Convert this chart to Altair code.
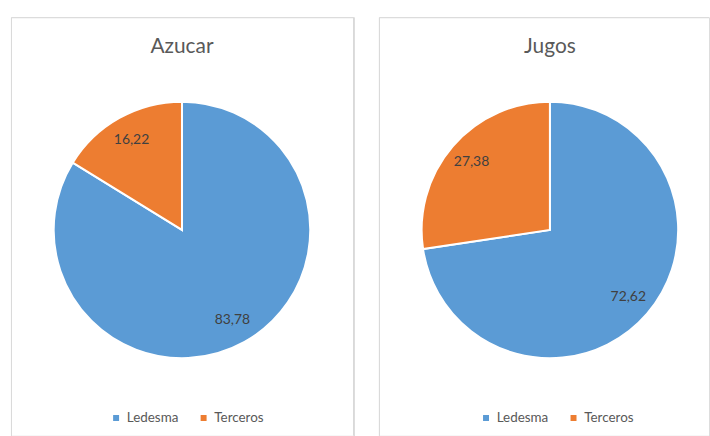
import altair as alt
import pandas as pd

categories = ["Ledesma", "Terceros"]
titles = ["Azucar", "Jugos"]
azucar_values = [83.78, 16.22]
jugos_values = [72.62, 27.38]
colors = ["#5B9BD5", "#ED7D31"]

FONT = "Lato"
PANEL_H = 421


def panel(title, values, width, border_w, cx, legend_x):
    df = pd.DataFrame({
        "cat": categories,
        "value": values,
        "idx": list(range(len(categories))),
        "label": [f"{v:.2f}".replace(".", ",") for v in values],
    })
    base = alt.Chart(df).encode(
        theta=alt.Theta("value:Q", stack=True),
        order=alt.Order("idx:Q"),
        color=alt.Color(
            "cat:N",
            scale=alt.Scale(domain=categories, range=colors),
            legend=alt.Legend(
                title=None,
                orient="none",
                direction="horizontal",
                legendX=legend_x,
                legendY=396,
                symbolType="square",
                symbolSize=36,
                symbolStrokeWidth=0,
                labelFontSize=13.5,
                labelColor="#595959",
                labelFont=FONT,
                columnPadding=18,
                symbolOffset=0,
            ),
        ),
    )
    pie = base.mark_arc(outerRadius=129, stroke="white", strokeWidth=2).encode(
        x=alt.value(cx), y=alt.value(214)
    )
    labels = base.mark_text(radius=104, fontSize=14, font=FONT, color="#404040").encode(
        x=alt.value(cx), y=alt.value(214), text="label:N",
        color=alt.value("#404040"),
    )
    ttl = alt.Chart(pd.DataFrame({"t": [title]})).mark_text(
        fontSize=21, font=FONT, color="#595959"
    ).encode(text="t:N", x=alt.value(cx), y=alt.value(30))
    border = alt.Chart(pd.DataFrame({"t": [title]})).mark_rect(
        filled=False, stroke="#d9d9d9", strokeWidth=1, clip=True
    ).encode(
        x=alt.value(0.5), x2=alt.value(border_w - 0.5),
        y=alt.value(0.5), y2=alt.value(PANEL_H + 50),
    )
    return alt.layer(border, pie, labels, ttl).properties(width=width, height=PANEL_H)


left = panel(titles[0], azucar_values, 345, 345, 172, 99)
right = panel(titles[1], jugos_values, 332, 360, 172, 101)

chart = (
    alt.hconcat(left, right, spacing=23)
    .resolve_legend(color="independent")
    .properties(padding={"left": 10, "top": 15, "right": 0, "bottom": 0})
    .configure_view(stroke=None)
    .configure(font=FONT, background="white")
)

chart.save("out.html", embed_options={"renderer": "svg", "actions": False})
